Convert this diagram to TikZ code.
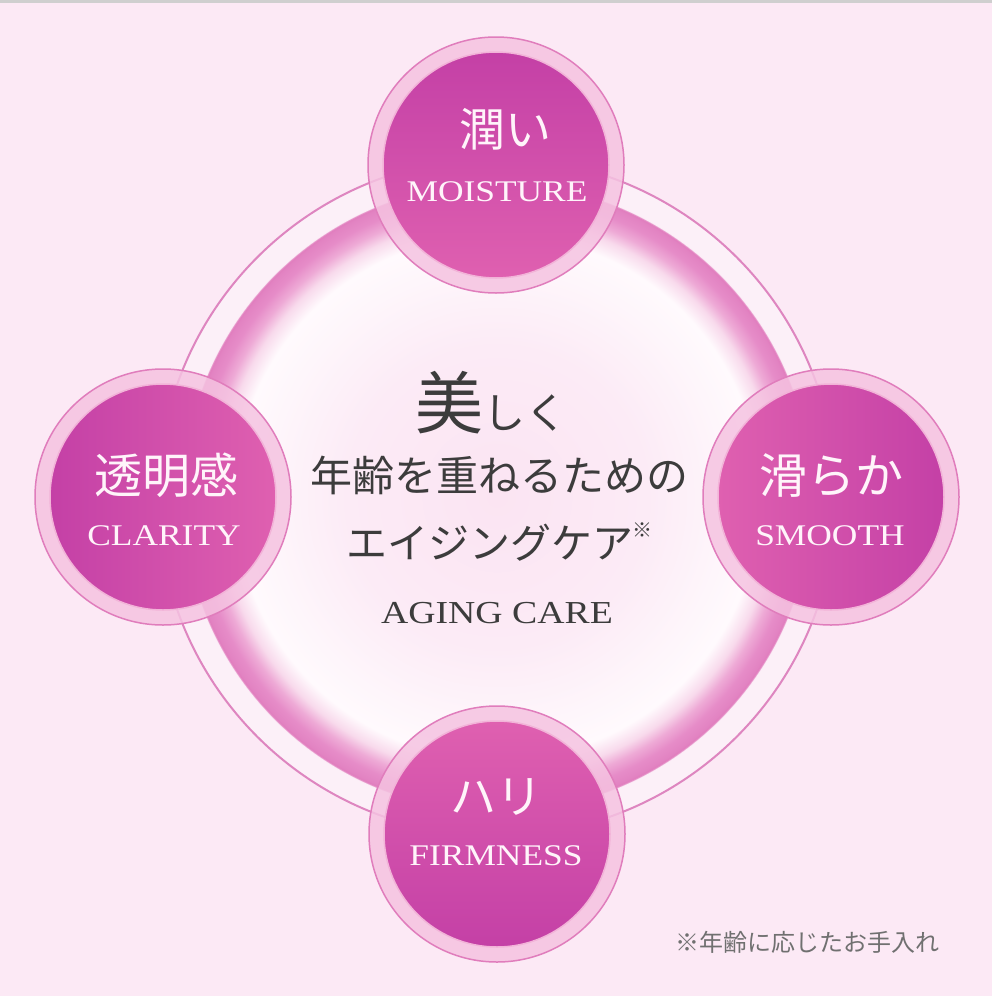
\documentclass[tikz,border=0pt]{standalone}
\usepackage{fontspec}
\newfontfamily\jp{Noto Sans CJK JP}
\newfontfamily\lat[FakeStretch=1.18]{Liberation Serif}
\definecolor{bg}{HTML}{FCE9F5}
\definecolor{topline}{HTML}{CFCFCF}
\definecolor{ringline}{HTML}{DE86C0}
\definecolor{bandpink}{HTML}{F5C3E1}
\definecolor{bandline}{HTML}{E07DBC}
\definecolor{corerim}{HTML}{F2B3D8}
\definecolor{cdark}{HTML}{C440A6}
\definecolor{clight}{HTML}{DF60B0}
\definecolor{txtdark}{HTML}{3C3C3C}
\definecolor{txtwhite}{HTML}{FFF4FA}
\definecolor{notegray}{HTML}{707070}
\definecolor{rA}{HTML}{FBE4F2}
\definecolor{rB}{HTML}{FCEBF6}
\definecolor{rC}{HTML}{FEF6FB}
\definecolor{rD}{HTML}{FFFAFD}
\definecolor{rE}{HTML}{F8DAEC}
\definecolor{rF}{HTML}{EEAAD6}
\definecolor{rG}{HTML}{E68CC8}
\definecolor{rH}{HTML}{E283C2}
\definecolor{rI}{HTML}{E07CBD}
\definecolor{rJ}{HTML}{FCF0F8}
\pgfdeclareradialshading{ringshade}{\pgfpoint{0bp}{0bp}}{%
color(0bp)=(rA);
color(11.1bp)=(rB);
color(17bp)=(rC);
color(19.4bp)=(rD);
color(20.6bp)=(rE);
color(21.45bp)=(rF);
color(22.3bp)=(rG);
color(23.0bp)=(rH);
color(23.2bp)=(rI);
color(23.3bp)=(rJ);
color(50bp)=(rJ)}
\tikzset{
  band/.style={circle, minimum size=256pt, inner sep=0pt, fill=bandpink, fill opacity=0.85, draw=bandline, line width=1.5pt},
  core/.style={circle, minimum size=226pt, inner sep=0pt, draw=corerim, line width=1.5pt},
  jlabel/.style={anchor=base, text=txtwhite, inner sep=0pt, font=\jp\fontsize{46}{46}\selectfont},
  elabel/.style={anchor=base, text=txtwhite, inner sep=0pt, font=\lat\fontsize{30}{30}\selectfont},
  ctext/.style={anchor=base, text=txtdark, inner sep=0pt}
}
\begin{document}
\begin{tikzpicture}[x=1pt, y=-1pt]
\useasboundingbox (0,0) rectangle (992,996);
\fill[bg] (0,0) rectangle (992,996);
\fill[topline] (0,0) rectangle (992,2.5);
% central ring
\coordinate (c) at (497,497);
\path[shading=ringshade] (c) circle[radius=338pt];
\draw[ringline, line width=2pt] (c) circle[radius=339pt];
% top
\node[band] (tb) at (496,165) {};
\node[core, top color=cdark, bottom color=clight] (tc) at (tb) {};
\node[jlabel] (tj) at (505,146) {潤い};
\node[elabel] (te) at (497,201) {MOISTURE};
% left
\node[band] (lb) at (163,497) {};
\node[core, left color=cdark, right color=clight] (lc) at (lb) {};
\node[jlabel, font=\jp\fontsize{48}{48}\selectfont] (lj) at (166,493) {透明感};
\node[elabel] (le) at (164,545) {CLARITY};
% right
\node[band] (rb) at (831,497) {};
\node[core, left color=clight, right color=cdark] (rc) at (rb) {};
\node[jlabel, font=\jp\fontsize{48}{48}\selectfont] (rj) at (831,493) {滑らか};
\node[elabel] (re) at (830,545) {SMOOTH};
% bottom
\node[band] (bb) at (497,834) {};
\node[core, top color=clight, bottom color=cdark] (bc) at (bb) {};
\node[jlabel] (bj) at (496,813) {ハリ};
\node[elabel] (be) at (496,865) {FIRMNESS};
% centre text
\node[ctext] (t1) at (491,428) {{\jp\fontsize{68}{68}\selectfont 美}{\jp\fontsize{42}{42}\selectfont しく}};
\node[ctext, font=\jp\fontsize{42}{42}\selectfont] (t2) at (499,491) {年齢を重ねるための};
\node[ctext, font=\jp\fontsize{41}{41}\selectfont] (t3) at (490,558) {エイジングケア};
\node[ctext, font=\jp\fontsize{20}{20}\selectfont] (t3n) at (642,537) {※};
\node[ctext, font=\lat\fontsize{32}{32}\selectfont] (t4) at (497,623) {AGING CARE};
% footnote
\node[anchor=base, text=notegray, inner sep=0pt, font=\jp\fontsize{24}{24}\selectfont] (fn) at (807,951) {※年齢に応じたお手入れ};
\end{tikzpicture}
\end{document}
